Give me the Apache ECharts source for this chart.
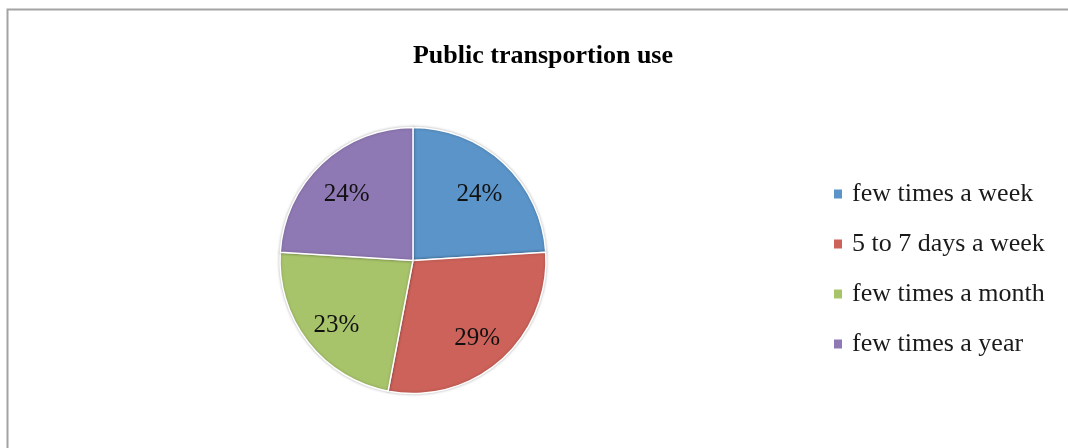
<!DOCTYPE html>
<html>
<head>
<meta charset="utf-8">
<style>
  html, body { margin: 0; padding: 0; background: #ffffff; }
  #chart { width: 1068px; height: 448px; }
</style>
<script src="https://cdn.jsdelivr.net/npm/echarts@6/dist/echarts.min.js"></script>
</head>
<body>
<div id="chart"></div>
<script>
// Survey answers: how often people use public transport
const categories = ['few times a week', '5 to 7 days a week', 'few times a month', 'few times a year'];
const shares = [24, 29, 23, 24];
const sliceColors = ['#5B94C9', '#CD625A', '#A8C46B', '#8F79B4'];

const FONT = '"Liberation Serif", "Times New Roman", serif';
const CENTER = [413, 260.5];
const RADIUS = 133;

const slices = categories.map((name, i) => ({
  name: name,
  value: shares[i],
  itemStyle: { color: sliceColors[i] }
}));

const chart = echarts.init(document.getElementById('chart'), null, { renderer: 'canvas' });

chart.setOption({
  backgroundColor: '#ffffff',
  animation: false,
  title: {
    text: 'Public transportion use',
    left: 538,
    top: 38,
    textAlign: 'center',
    textStyle: { fontFamily: FONT, fontSize: 26, fontWeight: 'bold', color: '#000000' }
  },
  legend: {
    orient: 'vertical',
    left: 827,
    top: 176,
    data: categories,
    icon: 'rect',
    itemWidth: 10,
    itemHeight: 11,
    itemGap: 24,
    textStyle: { fontFamily: FONT, fontSize: 26, color: '#1a1a1a', padding: [0, 0, 0, 4] },
    selectedMode: false
  },
  graphic: [{
    type: 'rect',
    silent: true,
    shape: { x: 7.5, y: 9.5, width: 1200, height: 600 },
    style: { fill: 'none', stroke: '#a3a3a3', lineWidth: 2 }
  }],
  series: [
    {
      // the pie itself
      type: 'pie',
      center: CENTER,
      radius: [0, RADIUS],
      startAngle: 90,
      clockwise: true,
      data: slices,
      label: { show: false },
      labelLine: { show: false },
      emphasis: { disabled: true },
      itemStyle: {
        borderColor: '#ffffff',
        borderWidth: 1.5,
        shadowBlur: 3,
        shadowColor: 'rgba(0,0,0,0.25)'
      }
    },
    {
      // percentage labels, placed on a ring so they sit toward the rim
      type: 'pie',
      center: CENTER,
      radius: [55, RADIUS],
      startAngle: 90,
      clockwise: true,
      silent: true,
      data: categories.map((name, i) => ({ name: name, value: shares[i] })),
      itemStyle: { color: 'rgba(0,0,0,0)' },
      emphasis: { disabled: true },
      labelLine: { show: false },
      labelLayout: { dy: 5 },
      label: {
        show: true,
        position: 'inside',
        formatter: p => p.value + '%',
        fontFamily: FONT,
        fontSize: 25,
        color: '#111111'
      }
    }
  ]
});
</script>
</body>
</html>
